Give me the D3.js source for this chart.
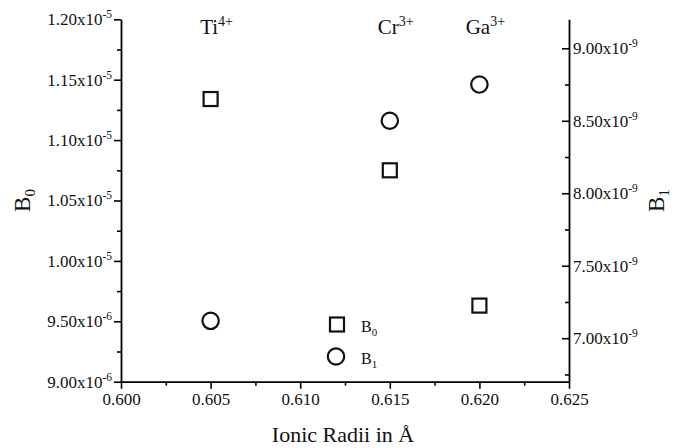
<!DOCTYPE html>
<html>
<head>
<meta charset="utf-8">
<script src="https://cdn.jsdelivr.net/npm/d3@7"></script>
<style>
  body { margin: 0; background: #fff; }
  svg { font-family: "Liberation Serif", "Times New Roman", serif; }
</style>
</head>
<body>
<div id="wrapper"></div>
<script>
/* DATA */
const ions = ['Ti', 'Cr', 'Ga'];
const charges = ['4+', '3+', '3+'];
const radii = [0.605, 0.615, 0.620];
const b0Values = [1.134e-5, 1.075e-5, 9.63e-6];
const b1Values = [7.12e-9, 8.50e-9, 8.75e-9];

const xTicks = [0.600, 0.605, 0.610, 0.615, 0.620, 0.625];
const xMinor = [0.6025, 0.6075, 0.6125, 0.6175, 0.6225];
const b0Ticks = [9.0e-6, 9.5e-6, 1.0e-5, 1.05e-5, 1.10e-5, 1.15e-5, 1.20e-5];
const b0Minor = [9.25e-6, 9.75e-6, 1.025e-5, 1.075e-5, 1.125e-5, 1.175e-5];
const b1Ticks = [7.0e-9, 7.5e-9, 8.0e-9, 8.5e-9, 9.0e-9];
const b1Minor = [6.75e-9, 7.25e-9, 7.75e-9, 8.25e-9, 8.75e-9];

/* DIMENSIONS */
const width = 679;
const height = 448;
const margin = { top: 19.3, right: 110, bottom: 66.3, left: 121 };
const innerW = width - margin.left - margin.right;
const innerH = height - margin.top - margin.bottom;

/* SCALES */
const xScale = d3.scaleLinear().domain([0.600, 0.625]).range([0, innerW]);
const y0Scale = d3.scaleLinear().domain([9.0e-6, 1.2e-5]).range([innerH, 0]);
const y1Scale = d3.scaleLinear().domain([6.7e-9, 9.2e-9]).range([innerH, 0]);

const svg = d3.select('#wrapper').append('svg')
  .attr('width', width)
  .attr('height', height);

const bounds = svg.append('g')
  .attr('transform', `translate(${margin.left},${margin.top})`);

// label as mantissa x10 with superscript exponent
function sciLabel(sel) {
  sel.each(function (d) {
    const exp = Math.floor(Math.log10(d) + 1e-9);
    const mant = (d / Math.pow(10, exp)).toFixed(2);
    const t = d3.select(this).text(null);
    t.append('tspan').text(`${mant}x10`);
    t.append('tspan').attr('dy', -7).attr('font-size', 11.5).text(`-${-exp}`);
  });
}

function styleAxis(g) {
  g.attr('font-family', '"Liberation Serif", "Times New Roman", serif');
  g.selectAll('.domain').attr('stroke', '#000').attr('stroke-width', 1.8);
  g.selectAll('.tick line').attr('stroke', '#000').attr('stroke-width', 1.6);
  g.selectAll('.tick text').attr('fill', '#111').attr('font-size', 17);
}

/* AXES */
bounds.append('g').attr('transform', `translate(0,${innerH})`)
  .call(d3.axisBottom(xScale).tickValues(xTicks).tickFormat(d3.format('.3f'))
    .tickSizeInner(7).tickSizeOuter(0).tickPadding(4))
  .call(styleAxis);
bounds.append('g').attr('transform', `translate(0,${innerH})`)
  .call(d3.axisBottom(xScale).tickValues(xMinor).tickFormat('')
    .tickSizeInner(4).tickSizeOuter(0))
  .call(styleAxis)
  .select('.domain').remove();

const leftAxis = bounds.append('g')
  .call(d3.axisLeft(y0Scale).tickValues(b0Ticks)
    .tickSizeInner(7).tickSizeOuter(0).tickPadding(2))
  .call(styleAxis);
leftAxis.selectAll('.tick text').call(sciLabel);
bounds.append('g')
  .call(d3.axisLeft(y0Scale).tickValues(b0Minor).tickFormat('')
    .tickSizeInner(4).tickSizeOuter(0))
  .call(styleAxis)
  .select('.domain').remove();

const rightAxis = bounds.append('g').attr('transform', `translate(${innerW},0)`)
  .call(d3.axisRight(y1Scale).tickValues(b1Ticks)
    .tickSizeInner(-7).tickSizeOuter(0).tickPadding(4))
  .call(styleAxis);
rightAxis.selectAll('.tick text').call(sciLabel);
bounds.append('g').attr('transform', `translate(${innerW},0)`)
  .call(d3.axisRight(y1Scale).tickValues(b1Minor).tickFormat('')
    .tickSizeInner(-4).tickSizeOuter(0))
  .call(styleAxis)
  .select('.domain').remove();

/* AXIS TITLES */
bounds.append('text')
  .attr('x', innerW / 2 - 2).attr('y', innerH + 60)
  .attr('text-anchor', 'middle').attr('font-size', 22).attr('fill', '#111')
  .text('Ionic Radii in Å');

const yTitle0 = bounds.append('text')
  .attr('transform', `translate(${-margin.left + 30},${innerH / 2}) rotate(-90)`)
  .attr('text-anchor', 'middle').attr('font-size', 23).attr('fill', '#111');
yTitle0.append('tspan').text('B');
yTitle0.append('tspan').attr('dy', 5).attr('font-size', 15).text('0');

const yTitle1 = bounds.append('text')
  .attr('transform', `translate(${innerW + 95},${innerH / 2}) rotate(-90)`)
  .attr('text-anchor', 'middle').attr('font-size', 23).attr('fill', '#111');
yTitle1.append('tspan').text('B');
yTitle1.append('tspan').attr('dy', 5).attr('font-size', 15).text('1');

/* ION LABELS */
const ionLabels = bounds.selectAll('.ion')
  .data(ions)
  .enter()
  .append('text')
  .attr('class', 'ion')
  .attr('x', (d, i) => xScale(radii[i]) + 6)
  .attr('y', 15)
  .attr('text-anchor', 'middle')
  .attr('font-size', 21)
  .attr('fill', '#111');
ionLabels.append('tspan').text(d => d);
ionLabels.append('tspan').attr('dy', -8).attr('font-size', 14).text((d, i) => charges[i]);

/* DATA MARKS */
const sq = 14;
bounds.append('g').selectAll('rect')
  .data(radii)
  .enter()
  .append('rect')
  .attr('x', (d) => xScale(d) - sq / 2)
  .attr('y', (d, i) => y0Scale(b0Values[i]) - sq / 2)
  .attr('width', sq).attr('height', sq)
  .attr('fill', 'none').attr('stroke', '#111').attr('stroke-width', 2.2);

bounds.append('g').selectAll('circle')
  .data(radii)
  .enter()
  .append('circle')
  .attr('cx', (d) => xScale(d))
  .attr('cy', (d, i) => y1Scale(b1Values[i]))
  .attr('r', 8.2)
  .attr('fill', 'none').attr('stroke', '#111').attr('stroke-width', 2.2);

/* LEGEND */
const legend = bounds.append('g').attr('transform', `translate(${337 - margin.left},${324.5 - margin.top})`);
legend.append('rect')
  .attr('x', -sq / 2).attr('y', -sq / 2).attr('width', sq).attr('height', sq)
  .attr('fill', 'none').attr('stroke', '#111').attr('stroke-width', 2.2);
legend.append('circle')
  .attr('cx', -1).attr('cy', 32).attr('r', 8.2)
  .attr('fill', 'none').attr('stroke', '#111').attr('stroke-width', 2.2);
[['B', '0', 7], ['B', '1', 39]].forEach(([b, s, y]) => {
  const t = legend.append('text').attr('x', 24).attr('y', y)
    .attr('font-size', 16).attr('fill', '#111');
  t.append('tspan').text(b);
  t.append('tspan').attr('dy', 4).attr('font-size', 11).text(s);
});
</script>
</body>
</html>
